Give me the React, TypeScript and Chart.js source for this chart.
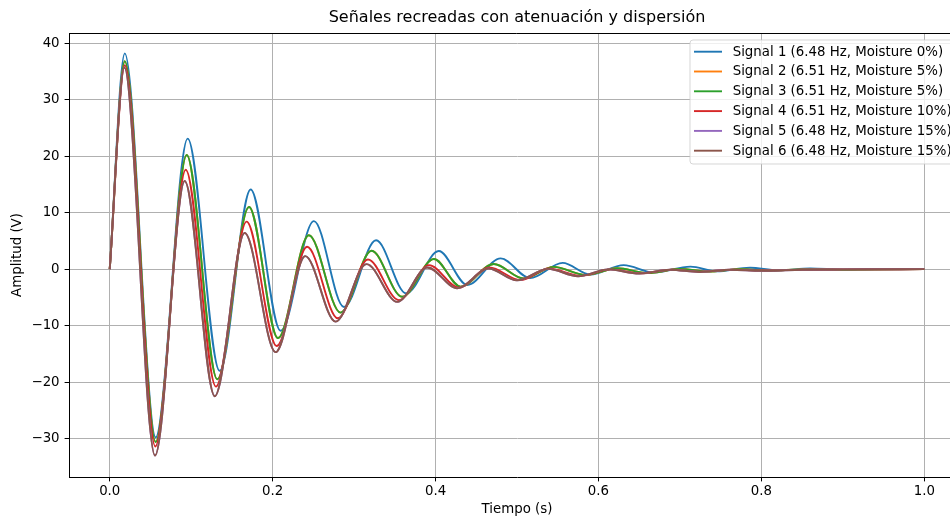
import { useEffect, useRef } from "react";
import { Chart, registerables } from "chart.js";

Chart.register(...registerables);

const FONT = "'DejaVu Sans', 'Liberation Sans', sans-serif";
const TITLE = "Señales recreadas con atenuación y dispersión";
const X_LABEL = "Tiempo (s)";
const Y_LABEL = "Amplitud (V)";

const SERIES_LABELS = [
  "Signal 1 (6.48 Hz, Moisture 0%)",
  "Signal 2 (6.51 Hz, Moisture 5%)",
  "Signal 3 (6.51 Hz, Moisture 5%)",
  "Signal 4 (6.51 Hz, Moisture 10%)",
  "Signal 5 (6.48 Hz, Moisture 15%)",
  "Signal 6 (6.48 Hz, Moisture 15%)",
];
const SERIES_COLORS = ["#1f77b4", "#ff7f0e", "#2ca02c", "#d62728", "#9467bd", "#8c564b"];

// Extrema (time in s, amplitude in V)
const s1T = [0, 0.0185, 0.0564, 0.0957, 0.135, 0.173, 0.2098, 0.2507, 0.2875, 0.327, 0.364, 0.404, 0.439, 0.48, 0.516, 0.556, 0.59, 0.631, 0.668, 0.713, 0.745, 0.786, 0.82, 0.86, 0.9, 0.94, 1.0];
const s1V = [0, 38.2, -29.8, 23.1, -18.0, 14.1, -10.9, 8.5, -6.7, 5.1, -4.3, 3.2, -2.8, 1.9, -1.6, 1.1, -0.95, 0.7, -0.6, 0.45, -0.4, 0.25, -0.22, 0.12, -0.1, 0.03, 0];

const s2T = [0, 0.0185, 0.0564, 0.0945, 0.132, 0.171, 0.2065, 0.2445, 0.2834, 0.3215, 0.359, 0.398, 0.4307, 0.4715, 0.508, 0.545, 0.584, 0.623, 0.66, 0.7, 0.735, 0.775, 0.81, 0.85, 0.9, 1.0];
const s2V = [0, 36.8, -30.6, 20.2, -19.5, 11.0, -12.2, 6.0, -7.7, 3.25, -4.9, 1.8, -3.1, 0.9, -1.65, 0.4, -1.05, 0.15, -0.7, 0.05, -0.45, 0.0, -0.28, -0.05, -0.1, 0];

const s3T = [0, 0.0185, 0.0564, 0.0945, 0.132, 0.171, 0.2065, 0.2445, 0.2834, 0.3215, 0.359, 0.398, 0.4307, 0.4715, 0.508, 0.545, 0.584, 0.623, 0.66, 0.7, 0.735, 0.775, 0.81, 0.85, 0.9, 1.0];
const s3V = [0, 36.8, -30.6, 20.2, -19.5, 11.0, -12.2, 6.0, -7.7, 3.25, -4.9, 1.8, -3.1, 0.9, -1.65, 0.4, -1.05, 0.15, -0.7, 0.05, -0.45, 0.0, -0.28, -0.05, -0.1, 0];

const s4T = [0, 0.0185, 0.056, 0.0933, 0.1304, 0.168, 0.205, 0.2423, 0.28, 0.317, 0.355, 0.392, 0.4286, 0.466, 0.504, 0.539, 0.578, 0.615, 0.652, 0.69, 0.725, 0.765, 0.8, 0.85, 0.9, 1.0];
const s4V = [0, 36.1, -31.4, 17.6, -20.8, 8.4, -13.6, 3.95, -8.7, 1.7, -5.5, 0.7, -3.3, 0.3, -1.95, 0.1, -1.2, -0.05, -0.75, -0.1, -0.45, -0.1, -0.25, -0.1, -0.05, 0];

const s5T = [0, 0.018, 0.0556, 0.092, 0.129, 0.1656, 0.2037, 0.24, 0.2773, 0.3153, 0.353, 0.39, 0.4266, 0.465, 0.5, 0.538, 0.575, 0.612, 0.65, 0.688, 0.724, 0.762, 0.8, 0.85, 0.9, 1.0];
const s5V = [0, 35.7, -33.0, 15.6, -22.5, 6.4, -14.7, 2.3, -9.3, 0.88, -5.8, 0.3, -3.4, 0.1, -2.0, 0.05, -1.25, -0.05, -0.8, -0.1, -0.5, -0.1, -0.3, -0.1, -0.05, 0];

const s6T = [0, 0.018, 0.0556, 0.092, 0.129, 0.1656, 0.2037, 0.24, 0.2773, 0.3153, 0.353, 0.39, 0.4266, 0.465, 0.5, 0.538, 0.575, 0.612, 0.65, 0.688, 0.724, 0.762, 0.8, 0.85, 0.9, 1.0];
const s6V = [0, 35.7, -33.0, 15.6, -22.5, 6.4, -14.7, 2.3, -9.3, 0.88, -5.8, 0.3, -3.4, 0.1, -2.0, 0.05, -1.25, -0.05, -0.8, -0.1, -0.5, -0.1, -0.3, -0.1, -0.05, 0];

const SERIES_T = [s1T, s2T, s3T, s4T, s5T, s6T];
const SERIES_V = [s1V, s2V, s3V, s4V, s5V, s6V];

const X_MIN = -0.05;
const X_MAX = 1.05;
const X_STEP = 0.2;
const Y_MIN = -36.8;
const Y_MAX = 41.8;
const Y_STEP = 10;

const CANVAS_W = 1000;
const CANVAS_H = 518;
const FS = 13.33;
const TITLE_FS = 16;

const fmtY = (v: number) => (v < 0 ? "\u2212" + Math.abs(v) : String(v));

const decorPlugin = {
  id: "decor",
  afterDraw(chart: any) {
    const { ctx, chartArea: a } = chart;
    ctx.save();
    // top / right spines
    ctx.strokeStyle = "#000";
    ctx.lineWidth = 1;
    ctx.beginPath();
    ctx.moveTo(a.left, a.top + 0.5);
    ctx.lineTo(a.right - 0.5, a.top + 0.5);
    ctx.lineTo(a.right - 0.5, a.bottom);
    ctx.stroke();

    // title
    ctx.fillStyle = "#000";
    ctx.font = `${TITLE_FS}px ${FONT}`;
    ctx.textAlign = "center";
    ctx.textBaseline = "middle";
    ctx.fillText(TITLE, (a.left + a.right) / 2, 18);

    // legend
    const bx = 690, by = 40, bw = 272, bh = 124, r = 3;
    ctx.beginPath();
    ctx.moveTo(bx + r, by);
    ctx.lineTo(bx + bw - r, by);
    ctx.arcTo(bx + bw, by, bx + bw, by + r, r);
    ctx.lineTo(bx + bw, by + bh - r);
    ctx.arcTo(bx + bw, by + bh, bx + bw - r, by + bh, r);
    ctx.lineTo(bx + r, by + bh);
    ctx.arcTo(bx, by + bh, bx, by + bh - r, r);
    ctx.lineTo(bx, by + r);
    ctx.arcTo(bx, by, bx + r, by, r);
    ctx.closePath();
    ctx.fillStyle = "rgba(255,255,255,0.8)";
    ctx.fill();
    ctx.strokeStyle = "rgba(204,204,204,0.8)";
    ctx.lineWidth = 1;
    ctx.stroke();

    ctx.font = `${FS}px ${FONT}`;
    ctx.textAlign = "left";
    ctx.textBaseline = "middle";
    chart.data.datasets.forEach((ds: any, i: number) => {
      const y = 51.7 + i * 19.8;
      ctx.strokeStyle = ds.borderColor;
      ctx.lineWidth = 1.9;
      ctx.beginPath();
      ctx.moveTo(694, y);
      ctx.lineTo(722, y);
      ctx.stroke();
      ctx.fillStyle = "#000";
      ctx.fillText(ds.label, 732.7, y + 0.5);
    });
    ctx.restore();
  },
};

export default function App() {
  const ref = useRef<HTMLCanvasElement | null>(null);

  useEffect(() => {
    if (!ref.current) return;
    const datasets = SERIES_LABELS.map((label, i) => ({
      label,
      data: SERIES_T[i].map((t, k) => ({ x: t, y: SERIES_V[i][k] })),
      borderColor: SERIES_COLORS[i],
      backgroundColor: SERIES_COLORS[i],
      borderWidth: 1.9,
      pointRadius: 0,
      fill: false,
      cubicInterpolationMode: "monotone" as const,
      order: SERIES_LABELS.length - 1 - i,
    }));

    const chart = new Chart(ref.current, {
      type: "line",
      data: { datasets },
      options: {
        responsive: false,
        maintainAspectRatio: false,
        animation: false,
        devicePixelRatio: 1,
        layout: { padding: { left: 0, top: 33, right: CANVAS_W - 965, bottom: 0 } },
        plugins: {
          legend: { display: false },
          title: { display: false },
          tooltip: { enabled: false },
        },
        scales: {
          x: {
            type: "linear",
            min: X_MIN,
            max: X_MAX,
            afterFit: (s: any) => {
              s.height = 41;
            },
            border: { color: "#000", width: 1 },
            grid: { color: "#b0b0b0", lineWidth: 1, tickColor: "#000", tickLength: 4.4 },
            ticks: {
              stepSize: X_STEP,
              includeBounds: false,
              padding: 2,
              color: "#000",
              font: { family: FONT, size: FS },
              maxRotation: 0,
              callback: (v: any) => Number(v).toFixed(1),
            },
            title: {
              display: true,
              text: X_LABEL,
              color: "#000",
              font: { family: FONT, size: FS },
              padding: { top: 0, bottom: 0.5 },
            },
          },
          y: {
            type: "linear",
            min: Y_MIN,
            max: Y_MAX,
            afterFit: (s: any) => {
              s.width = 69;
            },
            border: { color: "#000", width: 1 },
            grid: { color: "#b0b0b0", lineWidth: 1, tickColor: "#000", tickLength: 4.4 },
            ticks: {
              stepSize: Y_STEP,
              includeBounds: false,
              padding: 5,
              color: "#000",
              font: { family: FONT, size: FS },
              callback: (v: any) => fmtY(Number(v)),
            },
            title: {
              display: true,
              text: Y_LABEL,
              color: "#000",
              font: { family: FONT, size: FS },
              padding: { top: 10, bottom: 0 },
            },
          },
        },
      },
      plugins: [decorPlugin],
    });
    return () => chart.destroy();
  }, []);

  return (
    <div
      style={{
        position: "fixed",
        left: 0,
        top: 0,
        width: 950,
        height: 518,
        overflow: "hidden",
        background: "#fff",
      }}
    >
      <canvas
        ref={ref}
        width={CANVAS_W}
        height={CANVAS_H}
        style={{ display: "block", width: CANVAS_W, height: CANVAS_H }}
      />
    </div>
  );
}
